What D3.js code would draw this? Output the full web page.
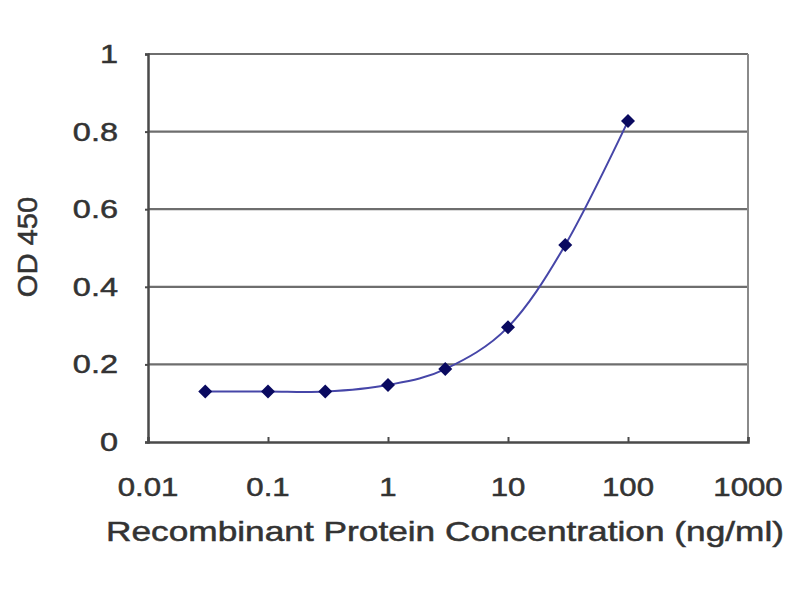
<!DOCTYPE html>
<html>
<head>
<meta charset="utf-8">
<script src="https://cdn.jsdelivr.net/npm/d3@7"></script>
<style>
  body{margin:0;background:#fff}
  text{font-family:"Liberation Sans",Arial,sans-serif;fill:#333;stroke:#333;stroke-width:0.5}
</style>
</head>
<body>
<svg id="chart"></svg>
<script>
// concentrations (ng/ml) and OD 450 readings
const conc = [0.03, 0.1, 0.3, 1, 3, 10, 30, 100];
const od = [0.13, 0.13, 0.13, 0.147, 0.188, 0.296, 0.508, 0.827];
const xTicks = [0.01, 0.1, 1, 10, 100, 1000];
const xTickLabels = ["0.01", "0.1", "1", "10", "100", "1000"];
const yTicks = [0, 0.2, 0.4, 0.6, 0.8, 1];
const yTickLabels = ["0", "0.2", "0.4", "0.6", "0.8", "1"];

let width = 800, height = 600;
const m = {left:148, right:52, top:54, bottom:158};

const svg = d3.select('#chart').attr('width',width).attr('height',height);

const x = d3.scaleLog().domain([0.01,1000]).range([m.left, width-m.right]);
const y = d3.scaleLinear().domain([0,1]).range([height-m.bottom, m.top]);

// gridlines
svg.selectAll('.grid')
  .data(yTicks.slice(1))
  .join('line')
    .classed('grid',true)
    .attr('x1',x(0.01)).attr('x2',x(1000))
    .attr('y1',d=>y(d)).attr('y2',d=>y(d))
    .attr('stroke','#6e6e6e').attr('stroke-width',2.2);

// right border of plot area
svg.append('line')
  .attr('x1',x(1000)).attr('x2',x(1000))
  .attr('y1',y(1)).attr('y2',y(0))
  .attr('stroke','#8a8a8a').attr('stroke-width',2);

// axes
const xAxis = svg.append('g')
  .attr('transform',`translate(0,${y(0)})`)
  .call(d3.axisBottom(x).tickValues(xTicks).tickSize(-5).tickFormat(''));
const yAxis = svg.append('g')
  .attr('transform',`translate(${x(0.01)},0)`)
  .call(d3.axisLeft(y).tickValues(yTicks).tickSize(3).tickFormat(''));
[xAxis,yAxis].forEach(a=>{
  a.select('.domain').attr('stroke','#4a4a4a').attr('stroke-width',2.5);
  a.selectAll('.tick line').attr('stroke','#4a4a4a').attr('stroke-width',2);
});

// tick labels (the original type is wider than Arial)
svg.selectAll('.xlab')
  .data(xTicks)
  .join('text')
    .classed('xlab',true)
    .attr('transform',d=>`translate(${x(d)},496) scale(1.2,1)`)
    .attr('text-anchor','middle')
    .style('font-size','26px')
    .text((d,i)=>xTickLabels[i]);
svg.selectAll('.ylab')
  .data(yTicks)
  .join('text')
    .classed('ylab',true)
    .attr('transform',d=>`translate(${x(0.01)-30},${y(d)+9}) scale(1.25,1)`)
    .attr('text-anchor','end')
    .style('font-size','26px')
    .text((d,i)=>yTickLabels[i]);

// axis titles
svg.append('text')
  .attr('x',445).attr('y',541)
  .attr('text-anchor','middle')
  .attr('textLength',678).attr('lengthAdjust','spacingAndGlyphs')
  .style('font-size','28px')
  .text('Recombinant Protein Concentration (ng/ml)');
svg.append('text')
  .attr('transform','translate(37,247) rotate(-90) scale(1.08,1)')
  .attr('text-anchor','middle')
  .style('font-size','27px')
  .text('OD 450');

// smoothed curve
const pts = conc.map((c,i)=>[c,od[i]]);
svg.append('path')
  .datum(pts)
  .attr('fill','none')
  .attr('stroke','#4646a8')
  .attr('stroke-width',2)
  .attr('d',d3.line().x(d=>x(d[0])).y(d=>y(d[1])).curve(d3.curveCatmullRom.alpha(0)));

// diamond markers
svg.selectAll('.pt')
  .data(pts)
  .join('path')
    .classed('pt',true)
    .attr('transform',d=>`translate(${x(d[0])},${y(d[1])})`)
    .attr('d','M0,-7L7,0L0,7L-7,0Z')
    .attr('fill','#0a0a60');
</script>
</body>
</html>
